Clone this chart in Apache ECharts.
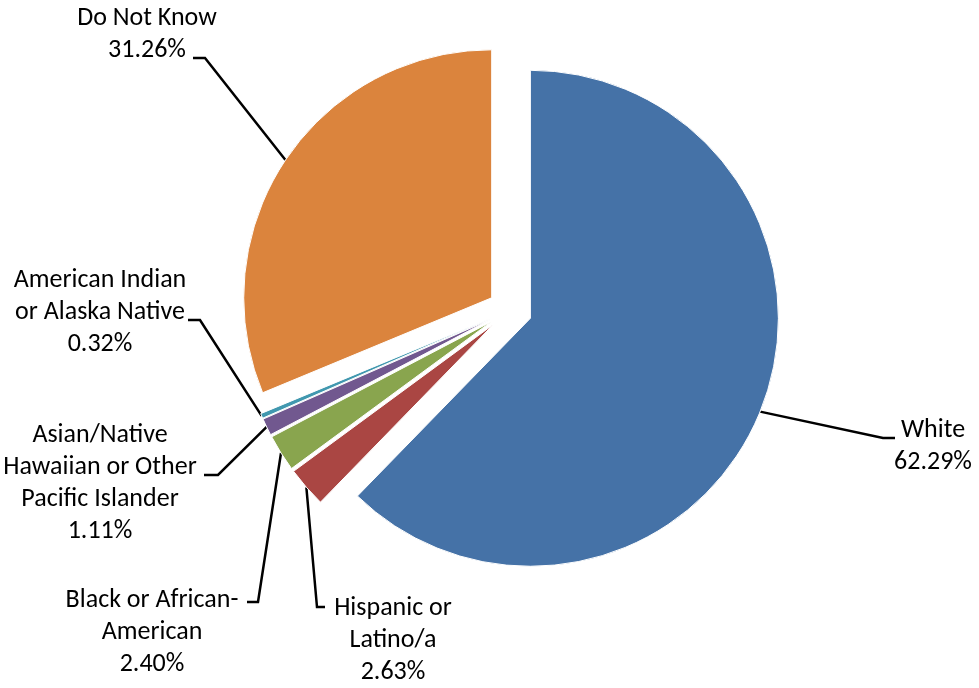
<!DOCTYPE html>
<html><head><meta charset="utf-8">
<script src="https://cdn.jsdelivr.net/npm/echarts@6/dist/echarts.min.js"></script>
<style>html,body{margin:0;padding:0;background:#fff}#c{width:979px;height:688px}</style>
</head><body><div id="c"></div>
<script>
// ---- data ----
const categories = ['White', 'Hispanic or Latino/a', 'Black or African-American',
  'Asian/Native Hawaiian or Other Pacific Islander', 'American Indian or Alaska Native', 'Do Not Know'];
const labelNames = ['White', 'Hispanic or\nLatino/a', 'Black or African-\nAmerican',
  'Asian/Native\nHawaiian or Other\nPacific Islander', 'American Indian\nor Alaska Native', 'Do Not Know'];
const values = [62.29, 2.63, 2.40, 1.11, 0.32, 31.26];
const colors = ['#4572A7', '#AA4643', '#89A54E', '#71588F', '#4198AF', '#DB843D'];

// ---- layout ----
const CENTER = [510, 310], RADIUS = 248, EXPLODE = 22;
const labelPos = [[933, 446], [393, 640], [152, 632], [100, 483], [100, 312], [147, 34]];
const leaderElbow = [[883, 438], [317, 607], [258, 602], [218, 475], [200, 320], [205, 58]];
const leaderEnd = [[895, 438], [325, 607], [247, 602], [204, 475], [188, 320], [193, 58]];
const FONT = 'Carlito, Lato, "Noto Sans", sans-serif';

const total = values.reduce((a, b) => a + b, 0);
let cum = 0;
const mids = values.map(v => { const m = (cum + v / 2) / total * 2 * Math.PI; cum += v; return m; });

const series = values.map((v, i) => {
  const a = mids[i], dx = Math.sin(a), dy = -Math.cos(a);
  const cx = CENTER[0] + EXPLODE * dx, cy = CENTER[1] + EXPLODE * dy;
  const start = [cx + RADIUS * dx, cy + RADIUS * dy];
  return {
    type: 'pie', radius: [0, RADIUS], center: [cx, cy], startAngle: 90, clockwise: true,
    animation: false, silent: true, avoidLabelOverlap: false,
    label: { show: false }, labelLine: { show: false },
    data: values.map((w, j) => j === i ? {
      name: categories[j], value: w,
      itemStyle: { color: colors[j], borderColor: '#fff', borderWidth: 1 },
      label: {
        show: true, position: 'outside', fontFamily: FONT, fontSize: 26, lineHeight: 32, color: '#000',
        formatter: () => labelNames[j] + '\n' + values[j].toFixed(2) + '%'
      },
      labelLine: { show: true, lineStyle: { color: '#000', width: 2.5 } }
    } : { name: categories[j], value: w, itemStyle: { color: 'rgba(0,0,0,0)', borderWidth: 0 } }),
    labelLayout: function (p) {
      if (p.dataIndex !== i) return {};
      return { x: labelPos[i][0], y: labelPos[i][1], align: 'center', verticalAlign: 'middle',
        labelLinePoints: [start, leaderElbow[i], leaderEnd[i]] };
    }
  };
});

const chart = echarts.init(document.getElementById('c'));
chart.setOption({ backgroundColor: '#fff', animation: false, series: series });
</script>
</body></html>
